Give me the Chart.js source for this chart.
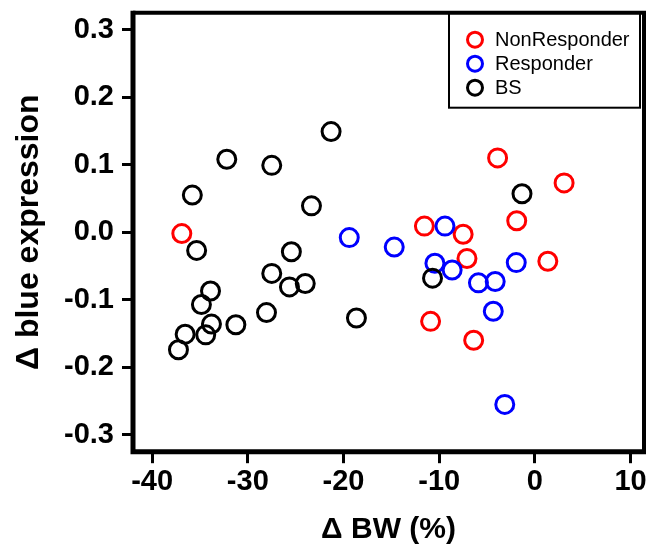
<!DOCTYPE html>
<html>
<head>
<meta charset="utf-8">
<script src="https://cdn.jsdelivr.net/npm/chart.js@4.4.1/dist/chart.umd.min.js"></script>
<style>
  html, body { margin: 0; padding: 0; background: #ffffff; }
  #wrap { width: 656px; height: 552px; position: relative; }
</style>
</head>
<body>
<div id="wrap"><canvas id="c" width="656" height="552"></canvas></div>
<script>
// ---- data ----
const seriesNames = ["NonResponder", "Responder", "BS"];
const seriesColors = ["#ff0000", "#0000ff", "#000000"];

const nonResponderBW  = [-36.9, -3.9, 3.05, -1.9, -11.55, -7.5, -7.1, 1.35, -10.9, -6.4];
const nonResponderExp = [-0.002, 0.110, 0.073, 0.017, 0.009, -0.003, -0.039, -0.043, -0.132, -0.160];

const responderBW  = [-19.4, -14.7, -9.4, -10.45, -8.65, -1.95, -5.9, -4.15, -4.35, -3.15];
const responderExp = [-0.008, -0.022, 0.009, -0.046, -0.056, -0.045, -0.075, -0.073, -0.117, -0.255];

const bsBW  = [-21.3, -32.2, -27.5, -35.8, -23.35, -35.35, -25.45, -27.5, -25.65, -24.0, -33.9,
               -34.85, -33.8, -34.4, -31.25, -28.05, -18.65, -36.55, -37.25, -1.35, -10.7];
const bsExp = [0.149, 0.108, 0.099, 0.055, 0.039, -0.027, -0.029, -0.061, -0.081, -0.076, -0.087,
               -0.107, -0.136, -0.152, -0.137, -0.119, -0.127, -0.151, -0.174, 0.057, -0.068];

const xTicks = [-40, -30, -20, -10, 0, 10];
const yTicks = [-0.3, -0.2, -0.1, 0.0, 0.1, 0.2, 0.3];
const xTitle = "\u0394 BW (%)";
const yTitle = "\u0394 blue expression";

// ---- build ----
function pts(xs, ys) { return xs.map((x, i) => ({ x: x, y: ys[i] })); }

const FONT = "'Liberation Sans', Arial, Helvetica, sans-serif";

const frameAndLegend = {
  id: 'frameAndLegend',
  afterDraw(chart) {
    const ctx = chart.ctx;
    const a = chart.chartArea;
    ctx.save();
    ctx.strokeStyle = '#000';
    // legend box
    const lx = a.right - 195, ly = a.top, lw = 191, lh = 95;
    ctx.fillStyle = '#fff';
    ctx.fillRect(lx, ly, lw, lh);
    ctx.lineWidth = 2;
    ctx.strokeRect(lx, ly, lw, lh);
    // plot frame (left/bottom a bit heavier)
    ctx.lineWidth = 4;
    ctx.beginPath();
    ctx.moveTo(a.left, a.top); ctx.lineTo(a.right, a.top); ctx.lineTo(a.right, a.bottom);
    ctx.stroke();
    ctx.lineWidth = 5;
    ctx.beginPath();
    ctx.moveTo(a.left, a.top - 2); ctx.lineTo(a.left, a.bottom); ctx.lineTo(a.right + 2, a.bottom);
    ctx.stroke();
    ctx.font = "20px " + FONT;
    ctx.textBaseline = 'middle';
    ctx.textAlign = 'left';
    seriesNames.forEach((name, i) => {
      const cy = ly + 27 + i * 24;
      ctx.beginPath();
      ctx.lineWidth = 3;
      ctx.strokeStyle = seriesColors[i];
      ctx.arc(lx + 26, cy, 7.5, 0, Math.PI * 2);
      ctx.stroke();
      ctx.fillStyle = '#000';
      ctx.fillText(name, lx + 46, cy + 1);
    });
    ctx.restore();
  }
};

const ds = (label, data, color, order) => ({
  label, data, order,
  showLine: false,
  pointStyle: 'circle',
  pointRadius: 9,
  pointHoverRadius: 9,
  pointBorderWidth: 3,
  pointHoverBorderWidth: 3,
  borderColor: color,
  backgroundColor: 'rgba(0,0,0,0)',
  pointBackgroundColor: 'rgba(0,0,0,0)'
});

new Chart(document.getElementById('c'), {
  type: 'scatter',
  data: {
    datasets: [
      ds(seriesNames[0], pts(nonResponderBW, nonResponderExp), seriesColors[0], 2),
      ds(seriesNames[1], pts(responderBW, responderExp), seriesColors[1], 1),
      ds(seriesNames[2], pts(bsBW, bsExp), seriesColors[2], 0)
    ]
  },
  options: {
    responsive: false,
    animation: false,
    events: [],
    layout: { padding: { top: 12.7, right: 5, left: 0, bottom: 0 } },
    plugins: { legend: { display: false }, tooltip: { enabled: false } },
    scales: {
      x: {
        type: 'linear',
        min: -42,
        max: 11.4,
        afterBuildTicks: s => { s.ticks = xTicks.map(v => ({ value: v })); },
        afterFit: s => { s.height = 100.3; s.paddingLeft = 0; s.paddingRight = 0; },
        border: { display: false },
        grid: { drawOnChartArea: false, drawTicks: true, tickLength: 11.5, lineWidth: 3, color: '#000' },
        ticks: { color: '#000', padding: 1, font: { family: FONT, size: 29, weight: 'bold' }, maxRotation: 0,
                 callback: v => String(v) },
        title: { display: true, text: xTitle, color: '#000', font: { family: FONT, size: 30, weight: 'bold' },
                 padding: { top: 0, bottom: 4 } }
      },
      y: {
        type: 'linear',
        min: -0.325,
        max: 0.325,
        afterBuildTicks: s => { s.ticks = yTicks.map(v => ({ value: v })); },
        afterFit: s => { s.width = 133; s.paddingTop = 0; s.paddingBottom = 0; },
        border: { display: false },
        grid: { drawOnChartArea: false, drawTicks: true, tickLength: 11, lineWidth: 3, color: '#000' },
        ticks: { color: '#000', padding: 8, font: { family: FONT, size: 29, weight: 'bold' },
                 callback: v => v.toFixed(1) },
        title: { display: true, text: yTitle, color: '#000', font: { family: FONT, size: 32, weight: 'bold' },
                 padding: { top: 10, bottom: 0 } }
      }
    }
  },
  plugins: [frameAndLegend]
});
</script>
</body>
</html>
